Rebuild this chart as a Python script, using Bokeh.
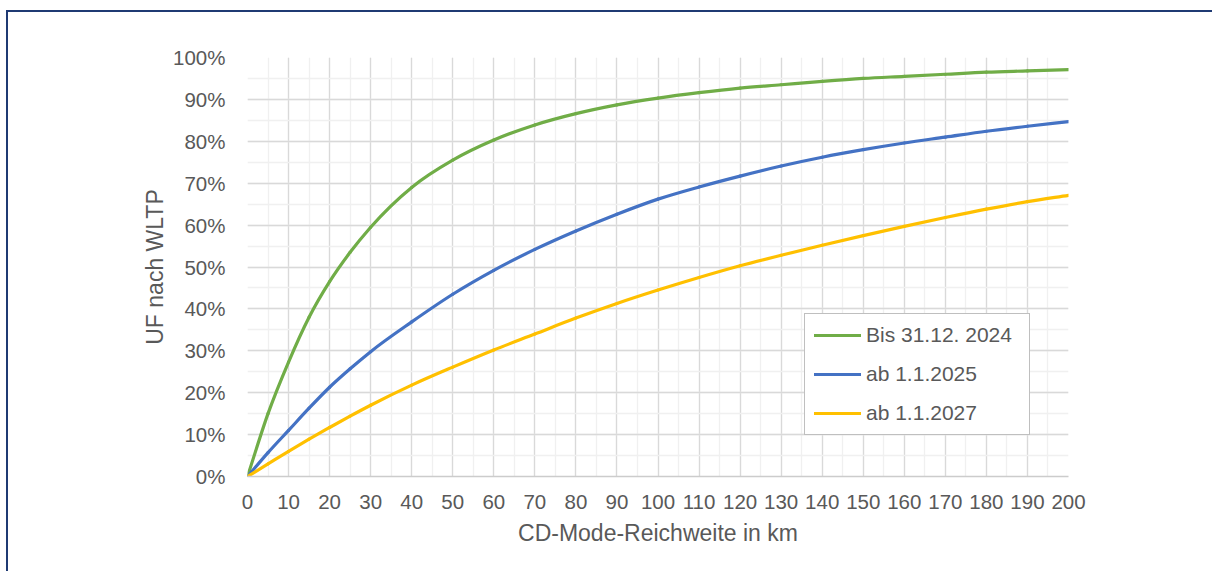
import numpy as np
from bokeh.plotting import figure
from bokeh.models import (Range1d, SingleIntervalTicker, PrintfTickFormatter,
                          Legend, LegendItem, ColumnDataSource, InlineStyleSheet)
from bokeh.embed import file_html
from bokeh.resources import INLINE

# CD-mode range in km
km = [0, 5, 10, 15, 20, 25, 30, 40, 50, 60, 70, 80, 90, 100,
      110, 120, 130, 140, 150, 160, 170, 180, 190, 200]

# Utility factor in percent for each regulation period
uf_bis_2024 = [0, 15.0, 27.3, 38.0, 46.5, 53.5, 59.5, 69.0, 75.5, 80.3, 83.9, 86.6,
               88.7, 90.3, 91.6, 92.7, 93.5, 94.3, 95.0, 95.5, 96.0, 96.5, 96.8, 97.1]
uf_ab_2025 = [0, 5.7, 11.0, 16.3, 21.3, 25.7, 29.8, 36.9, 43.5, 49.2, 54.2, 58.6,
              62.6, 66.2, 69.1, 71.7, 74.1, 76.2, 78.0, 79.6, 81.0, 82.4, 83.6, 84.7]
uf_ab_2027 = [0, 3.0, 6.0, 8.9, 11.7, 14.4, 17.0, 21.8, 26.1, 30.2, 34.0, 37.8,
              41.3, 44.5, 47.5, 50.3, 52.8, 55.2, 57.5, 59.7, 61.8, 63.8, 65.6, 67.1]

series_labels = ["Bis 31.12. 2024", "ab 1.1.2025", "ab 1.1.2027"]
series_colors = ["#70ad47", "#4472c4", "#ffc000"]

FONT = "Liberation Sans"
TEXT = "#595959"


def smooth_segments(xs, ys):
    """Cubic Bezier segments through the points (smoothed line)."""
    x = np.asarray(xs, float)
    y = np.asarray(ys, float)
    h = np.diff(x)
    d = np.diff(y) / h
    m = np.empty_like(y)
    m[0], m[-1] = d[0], d[-1]
    m[1:-1] = (h[:-1] * d[1:] + h[1:] * d[:-1]) / (h[:-1] + h[1:])
    return dict(x0=x[:-1], y0=y[:-1], x1=x[1:], y1=y[1:],
                cx0=x[:-1] + h / 3, cy0=y[:-1] + m[:-1] * h / 3,
                cx1=x[1:] - h / 3, cy1=y[1:] - m[1:] * h / 3)


p = figure(width=1212, height=571, output_backend="svg", toolbar_location=None,
           x_range=Range1d(0, 200), y_range=Range1d(0, 100),
           min_border_left=247, min_border_right=144,
           min_border_top=57, min_border_bottom=95)
p.outline_line_color = None
p.background_fill_color = "white"
p.border_fill_color = "white"

# navy rule along the top and left edge of the chart
p.stylesheets = [InlineStyleSheet(css="""
:host { position: relative; }
:host::after {
  content: ""; position: absolute; left: 6px; top: 10px;
  width: 1206px; height: 561px; box-sizing: border-box;
  border-top: 2px solid #1f3a73; border-left: 2px solid #1f3a73;
  pointer-events: none; z-index: 10;
}
""")]

# x axis
p.xaxis.ticker = SingleIntervalTicker(interval=10, num_minor_ticks=2)
p.xaxis.axis_label = "CD-Mode-Reichweite in km"
p.xaxis.axis_line_color = "#cccccc"
p.xaxis.axis_line_width = 1.5
p.xaxis.major_label_standoff = 12
p.xaxis.axis_label_standoff = 8

# y axis
p.yaxis.ticker = SingleIntervalTicker(interval=10, num_minor_ticks=2)
p.yaxis.formatter = PrintfTickFormatter(format="%d%%")
p.yaxis.axis_label = "UF nach WLTP"
p.yaxis.axis_line_color = None
p.yaxis.major_label_standoff = 16
p.yaxis.axis_label_standoff = 2

for ax in (p.xaxis, p.yaxis):
    ax.major_tick_line_color = None
    ax.minor_tick_line_color = None
    ax.major_label_text_font = FONT
    ax.major_label_text_font_size = "20.5px"
    ax.major_label_text_color = TEXT
    ax.axis_label_text_font = FONT
    ax.axis_label_text_font_size = "23px"
    ax.axis_label_text_font_style = "normal"
    ax.axis_label_text_color = TEXT

for g in (p.xgrid, p.ygrid):
    g.grid_line_color = "#d9d9d9"
    g.grid_line_width = 1.3
    g.minor_grid_line_color = "#f0f0f0"
    g.minor_grid_line_width = 1.3

renderers = []
for ys, col in zip([uf_bis_2024, uf_ab_2025, uf_ab_2027], series_colors):
    src = ColumnDataSource(smooth_segments(km, ys))
    r = p.bezier(x0="x0", y0="y0", x1="x1", y1="y1",
                 cx0="cx0", cy0="cy0", cx1="cx1", cy1="cy1",
                 source=src, line_color=col, line_width=3.2, line_cap="round")
    renderers.append(r)

legend = Legend(items=[LegendItem(label=lab, renderers=[r], index=0)
                       for lab, r in zip(series_labels, renderers)],
                location=(557, 41))
legend.label_text_font = FONT
legend.label_text_font_size = "21px"
legend.label_text_color = TEXT
legend.border_line_color = "#7f7f7f"
legend.border_line_width = 1.5
legend.background_fill_color = "white"
legend.background_fill_alpha = 1
legend.padding = 9
legend.spacing = 15
legend.label_height = 20
legend.glyph_height = 20
legend.glyph_width = 47
legend.label_standoff = 5
legend.label_width = 154
legend.margin = 0
p.add_layout(legend)

open("out.html", "w").write(file_html(p, INLINE))
